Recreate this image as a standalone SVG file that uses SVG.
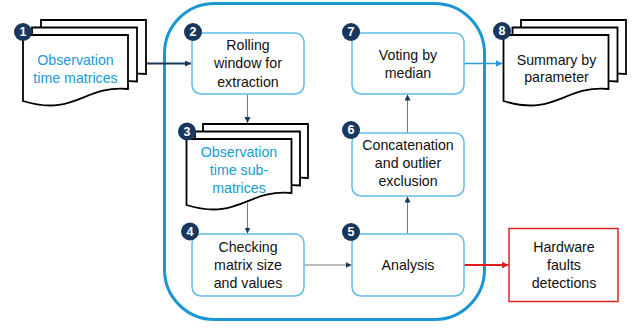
<svg xmlns="http://www.w3.org/2000/svg" width="639" height="329" viewBox="0 0 639 329">
  <style>
    .txt { font-family: "Liberation Sans", Arial, sans-serif; font-size: 14.2px; fill: #111; text-anchor: middle; }
    .blue { fill: #1a9ad6; }
    .node { fill: #fff; stroke: #62bdea; stroke-width: 1.5; }
    .sheet { fill: #fff; stroke: #000; stroke-width: 1.8; stroke-linejoin: miter; }
    .badge circle { fill: #17375e; }
    .badge text { font-family: "Liberation Sans", Arial, sans-serif; font-size: 12.5px; font-weight: bold; fill: #fff; text-anchor: middle; }
    .thin { fill: none; stroke: #7a7a7a; stroke-width: 1; }
  </style>
  <defs>
    <!-- flowchart document sheet: flat top, wavy bottom -->
    <path id="doc" d="M0,0 H105 V54 C60,50 52.5,82 0,66 Z"/>
    <marker id="arrNavy" markerUnits="userSpaceOnUse" markerWidth="7" markerHeight="7" refX="6" refY="3" orient="auto">
      <path d="M0,0 L6,3 L0,6 Z" fill="#17375e"/>
    </marker>
    <marker id="arrBlue" markerUnits="userSpaceOnUse" markerWidth="8" markerHeight="8" refX="7" refY="3.5" orient="auto">
      <path d="M0,0 L7,3.5 L0,7 Z" fill="#2a9ad6"/>
    </marker>
    <marker id="arrRed" markerUnits="userSpaceOnUse" markerWidth="8" markerHeight="8" refX="7" refY="3.5" orient="auto">
      <path d="M0,0 L7,3.5 L0,7 Z" fill="#e01b1b"/>
    </marker>
  </defs>

  <rect width="639" height="329" fill="#fff"/>

  <!-- processing container -->
  <rect id="container" x="164.5" y="3.5" width="320" height="316" rx="50" ry="50" fill="none" stroke="#1a96d4" stroke-width="3"/>

  <!-- connectors -->
  <g id="connectors">
    <line x1="144" y1="63.5" x2="191" y2="63.5" stroke="#17375e" stroke-width="2" marker-end="url(#arrNavy)"/>
    <line class="thin" x1="247.5" y1="94" x2="247.5" y2="123" marker-end="url(#arrNavy)"/>
    <line class="thin" x1="247.5" y1="203" x2="247.5" y2="233.5" marker-end="url(#arrNavy)"/>
    <line class="thin" x1="304" y1="265" x2="351.5" y2="265" marker-end="url(#arrNavy)"/>
    <line class="thin" x1="407.5" y1="234" x2="407.5" y2="196.5" marker-end="url(#arrNavy)"/>
    <line class="thin" x1="407.5" y1="133" x2="407.5" y2="94.5" marker-end="url(#arrNavy)"/>
    <line x1="464" y1="63.5" x2="502.5" y2="63.5" stroke="#2a9ad6" stroke-width="1.6" marker-end="url(#arrBlue)"/>
    <line x1="464" y1="265" x2="508.5" y2="265" stroke="#e01b1b" stroke-width="2" marker-end="url(#arrRed)"/>
  </g>

  <!-- 1: observation time matrices -->
  <g id="n1">
    <use href="#doc" class="sheet" x="41" y="20"/>
    <use href="#doc" class="sheet" x="32" y="27.5"/>
    <use href="#doc" class="sheet" x="23" y="35"/>
    <text class="txt blue" x="75.5" y="65">Observation</text>
    <text class="txt blue" x="75.5" y="83.3">time matrices</text>
    <g class="badge"><circle cx="23" cy="32" r="9"/><text x="23" y="36.4">1</text></g>
  </g>

  <!-- 2: rolling window -->
  <g id="n2">
    <rect class="node" x="192" y="33" width="112" height="61" rx="9"/>
    <text class="txt" x="248" y="50">Rolling</text>
    <text class="txt" x="248" y="68.3">window for</text>
    <text class="txt" x="248" y="86.6">extraction</text>
    <g class="badge"><circle cx="193" cy="32" r="9"/><text x="193" y="36.4">2</text></g>
  </g>

  <!-- 3: observation time sub-matrices -->
  <g id="n3">
    <use href="#doc" class="sheet" x="203" y="124"/>
    <use href="#doc" class="sheet" x="195" y="131.5"/>
    <use href="#doc" class="sheet" x="186.5" y="139"/>
    <text class="txt blue" x="239" y="156.7">Observation</text>
    <text class="txt blue" x="239" y="175">time sub-</text>
    <text class="txt blue" x="239" y="193">matrices</text>
    <g class="badge"><circle cx="187" cy="131.5" r="9"/><text x="187" y="135.9">3</text></g>
  </g>

  <!-- 4: checking -->
  <g id="n4">
    <rect class="node" x="192" y="234" width="112" height="62" rx="9"/>
    <text class="txt" x="248" y="251.7">Checking</text>
    <text class="txt" x="248" y="270">matrix size</text>
    <text class="txt" x="248" y="288.3">and values</text>
    <g class="badge"><circle cx="190" cy="231.5" r="9"/><text x="190" y="235.9">4</text></g>
  </g>

  <!-- 5: analysis -->
  <g id="n5">
    <rect class="node" x="352" y="234" width="112" height="62" rx="9"/>
    <text class="txt" x="408" y="270">Analysis</text>
    <g class="badge"><circle cx="351" cy="232" r="9"/><text x="351" y="236.4">5</text></g>
  </g>

  <!-- 6: concatenation -->
  <g id="n6">
    <rect class="node" x="352" y="133" width="112" height="63" rx="9"/>
    <text class="txt" x="408" y="149.5">Concatenation</text>
    <text class="txt" x="408" y="167.6">and outlier</text>
    <text class="txt" x="408" y="186">exclusion</text>
    <g class="badge"><circle cx="351" cy="130" r="9"/><text x="351" y="134.4">6</text></g>
  </g>

  <!-- 7: voting -->
  <g id="n7">
    <rect class="node" x="352" y="33" width="112" height="61" rx="9"/>
    <text class="txt" x="408" y="60">Voting by</text>
    <text class="txt" x="408" y="77.8">median</text>
    <g class="badge"><circle cx="351" cy="32" r="9"/><text x="351" y="36.4">7</text></g>
  </g>

  <!-- 8: summary -->
  <g id="n8">
    <use href="#doc" class="sheet" x="521" y="20"/>
    <use href="#doc" class="sheet" x="512.5" y="27.5"/>
    <use href="#doc" class="sheet" x="503.5" y="35"/>
    <text class="txt" x="556.5" y="65">Summary by</text>
    <text class="txt" x="556.5" y="82">parameter</text>
    <g class="badge"><circle cx="502" cy="31" r="9"/><text x="502" y="35.4">8</text></g>
  </g>

  <!-- hardware faults output -->
  <g id="hw">
    <rect x="509" y="228.5" width="109" height="73" fill="#fff" stroke="#e02424" stroke-width="1.5"/>
    <text class="txt" x="564" y="251.7">Hardware</text>
    <text class="txt" x="564" y="270">faults</text>
    <text class="txt" x="564" y="288.3">detections</text>
  </g>
</svg>
